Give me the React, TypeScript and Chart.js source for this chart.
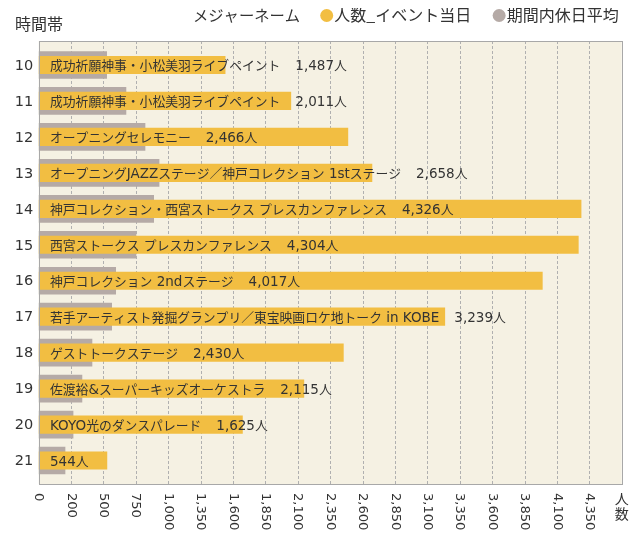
import { useEffect, useRef } from 'react';
import { Chart, registerables } from 'chart.js';

Chart.register(...registerables);

const hours = ['10', '11', '12', '13', '14', '15', '16', '17', '18', '19', '20', '21'];
const eventNames = [
  '成功祈願神事・小松美羽ライブペイント',
  '成功祈願神事・小松美羽ライブペイント',
  'オープニングセレモニー',
  'オープニングJAZZステージ／神戸コレクション 1stステージ',
  '神戸コレクション・西宮ストークス プレスカンファレンス',
  '西宮ストークス プレスカンファレンス',
  '神戸コレクション 2ndステージ',
  '若手アーティスト発掘グランプリ／東宝映画ロケ地トーク in KOBE',
  'ゲストトークステージ',
  '佐渡裕&スーパーキッズオーケストラ',
  'KOYO光のダンスパレード',
  '',
];
const eventDay = [1487, 2011, 2466, 2658, 4326, 4304, 4017, 3239, 2430, 2115, 1625, 544];
const holidayAvg = [542, 696, 848, 960, 917, 776, 614, 582, 425, 345, 274, 210];
const xTickLabels = ['0', '200', '500', '750', '1,000', '1,350', '1,600', '1,850', '2,100', '2,350', '2,600', '2,850', '3,100', '3,350', '3,600', '3,850', '4,100', '4,350', '人数'];
const xMax = 4650;
const legendTitle = 'メジャーネーム';
const yTitle = '時間帯';

const FONT = '"Noto Sans CJK JP", "Noto Sans", sans-serif';
const LATIN = '"DejaVu Sans", "Noto Sans", sans-serif';
const YELLOW = '#F2BE42';
const GRAY = '#B5AAA6';
const TEXT = '#333333';

function drawMixed(ctx: CanvasRenderingContext2D, text: string, x: number, baseline: number, cjkSize: number, latinSize: number): number {
  const runs = text.split(/([\x20-\x7E]+)/).filter((r) => r.length > 0);
  let cx = x;
  for (const run of runs) {
    const latin = /^[\x20-\x7E]+$/.test(run);
    ctx.font = latin ? `${latinSize}px ${LATIN}` : `${cjkSize}px ${FONT}`;
    ctx.fillText(run, cx, baseline);
    cx += ctx.measureText(run).width;
  }
  return cx - x;
}

const decorPlugin = {
  id: 'decor',
  beforeDatasetsDraw(chart: any) {
    const { ctx, chartArea: a, scales } = chart;
    const x = scales.x;
    const top = a.top - 6;
    const bottom = a.bottom + 5.5;
    ctx.save();
    ctx.fillStyle = '#F5F1E3';
    ctx.fillRect(a.left, top, a.right - a.left, bottom - top);
    const step = xMax / (xTickLabels.length - 1);
    ctx.strokeStyle = '#B0B0B0';
    ctx.lineWidth = 1;
    ctx.setLineDash([3, 2]);
    for (let k = 1; k < xTickLabels.length - 1; k++) {
      const px = Math.round(x.getPixelForValue(k * step)) + 0.5;
      ctx.beginPath();
      ctx.moveTo(px, top);
      ctx.lineTo(px, bottom);
      ctx.stroke();
    }
    ctx.setLineDash([]);
    ctx.restore();
  },
  afterDatasetsDraw(chart: any) {
    const { ctx, chartArea: a, scales } = chart;
    const x = scales.x;
    const y = scales.y;
    const top = a.top - 6;
    const bottom = a.bottom + 5.5;
    ctx.save();
    // border
    ctx.strokeStyle = '#A8A8A8';
    ctx.lineWidth = 1;
    ctx.strokeRect(Math.round(a.left) + 0.5, Math.round(top) + 0.5, Math.round(a.right - a.left), Math.round(bottom - top));

    // bar labels
    ctx.fillStyle = TEXT;
    ctx.textBaseline = 'alphabetic';
    ctx.textAlign = 'left';
    hours.forEach((_, i) => {
      const base = y.getPixelForValue(i) + 5.5;
      let tx = a.left + 11.3;
      const name = eventNames[i];
      if (name) {
        tx += drawMixed(ctx, name, tx, base, 12.8, 13.5) + 15;
      }
      drawMixed(ctx, eventDay[i].toLocaleString('en-US') + '人', tx, base, 12.8, 13.5);
    });

    // y labels
    ctx.font = `14.5px ${LATIN}`;
    ctx.textAlign = 'right';
    ctx.textBaseline = 'middle';
    hours.forEach((h, i) => {
      ctx.fillText(h, a.left - 5.5, y.getPixelForValue(i) + 1);
    });

    // x labels
    const step = xMax / (xTickLabels.length - 1);
    xTickLabels.forEach((lab, k) => {
      const px = x.getPixelForValue(k * step);
      if (k === xTickLabels.length - 1) {
        ctx.save();
        ctx.font = `14px ${FONT}`;
        ctx.textAlign = 'center';
        ctx.textBaseline = 'top';
        const chars = Array.from(lab);
        chars.forEach((c, j) => ctx.fillText(c, px, bottom + 8 + j * 15));
        ctx.restore();
      } else {
        ctx.save();
        ctx.font = `13px ${LATIN}`;
        ctx.translate(px, bottom + 9);
        ctx.rotate(Math.PI / 2);
        ctx.textAlign = 'left';
        ctx.textBaseline = 'middle';
        ctx.fillText(lab, 0, 0);
        ctx.restore();
      }
    });

    // y title
    ctx.font = `16px ${FONT}`;
    ctx.textAlign = 'left';
    ctx.textBaseline = 'middle';
    ctx.fillText(yTitle, 7, 16);

    // legend
    ctx.font = `15.3px ${FONT}`;
    ctx.fillText(legendTitle, 185, 7);
    ctx.font = `16px ${FONT}`;
    const ds = chart.data.datasets;
    let lx = 312.2;
    ds.forEach((d: any) => {
      ctx.fillStyle = d.backgroundColor;
      ctx.beginPath();
      ctx.arc(lx + 6.5, 7.5, 6.5, 0, Math.PI * 2);
      ctx.fill();
      ctx.fillStyle = TEXT;
      ctx.fillText(d.label, lx + 14, 7);
      lx += 14 + ctx.measureText(d.label).width + 21.5;
    });
    ctx.restore();
  },
};

export default function App() {
  const ref = useRef<HTMLCanvasElement | null>(null);
  useEffect(() => {
    if (!ref.current) return;
    const chart = new Chart(ref.current, {
      type: 'bar',
      data: {
        labels: hours,
        datasets: [
          {
            label: '人数_イベント当日',
            data: eventDay,
            backgroundColor: YELLOW,
            barThickness: 17.5,
            grouped: false,
            borderWidth: 0,
          } as any,
          {
            label: '期間内休日平均',
            data: holidayAvg,
            backgroundColor: GRAY,
            barThickness: 27,
            grouped: false,
            borderWidth: 0,
          } as any,
        ],
      },
      options: {
        indexAxis: 'y',
        animation: false,
        responsive: true,
        maintainAspectRatio: false,
        layout: { padding: { left: 30.7, right: 13.3, top: 39, bottom: 51.5 } },
        scales: {
          x: { type: 'linear', min: 0, max: xMax, display: false },
          y: { type: 'category', display: false },
        },
        plugins: { legend: { display: false }, tooltip: { enabled: false } },
      },
      plugins: [decorPlugin],
    });
    return () => chart.destroy();
  }, []);
  return (
    <div style={{ width: 627, height: 522, position: 'relative' }}>
      <canvas ref={ref} style={{ display: 'block' }} />
    </div>
  );
}
